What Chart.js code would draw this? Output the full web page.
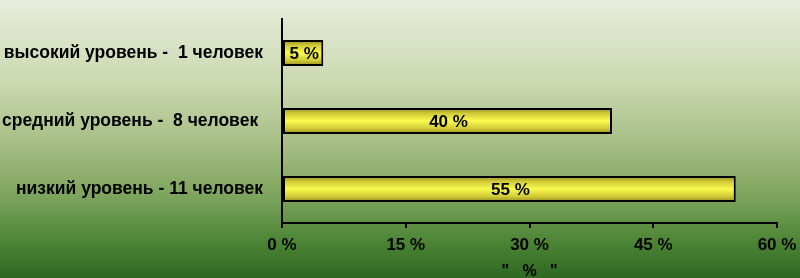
<!DOCTYPE html>
<html><head><meta charset="utf-8">
<script src="https://cdn.jsdelivr.net/npm/chart.js@4"></script>
<style>html,body{margin:0;padding:0;background:#2f6a22;overflow:hidden}#wrap{width:800px;height:278px;position:relative}</style>
</head><body><div id="wrap"><canvas id="c"></canvas></div>
<script>
const categories = ['высокий уровень -  1 человек', 'средний уровень -  8 человек ', 'низкий уровень - 11 человек'];
const percentValues = [5, 40, 55];
const barLabels = ['5 %', '40 %', '55 %'];
const xTickValues = [0, 15, 30, 45, 60];
const axisTitle = '"   %   "';

Chart.defaults.font.family = '"Liberation Sans", Arial, sans-serif';
Chart.defaults.color = '#000';

const bgPlugin = {
  id: 'bg',
  beforeDraw(chart) {
    const ctx = chart.ctx, w = chart.width, h = chart.height;
    const g = ctx.createLinearGradient(0, 0, 0, h);
    g.addColorStop(0, '#e7eddb');
    g.addColorStop(0.3, '#cbd8b0');
    g.addColorStop(0.5, '#a9c087');
    g.addColorStop(0.7, '#7ea55e');
    g.addColorStop(0.86, '#4f8637');
    g.addColorStop(1, '#2e6821');
    ctx.save();
    ctx.fillStyle = g;
    ctx.fillRect(0, 0, w, h);
    ctx.restore();
  }
};

const labelPlugin = {
  id: 'barLabels',
  afterDatasetsDraw(chart) {
    const ctx = chart.ctx;
    const meta = chart.getDatasetMeta(0);
    ctx.save();
    ctx.font = 'bold 17px "Liberation Sans", Arial, sans-serif';
    ctx.fillStyle = '#000';
    ctx.textAlign = 'center';
    ctx.textBaseline = 'middle';
    meta.data.forEach((el, i) => {
      ctx.fillText(barLabels[i], (el.x + el.base) / 2 + 1, el.y + 1);
    });
    ctx.restore();
  }
};

function barFill(c) {
  const chart = c.chart;
  const ys = chart.scales && chart.scales.y;
  if (!ys || c.dataIndex === undefined) return '#e8e43a';
  const cy = ys.getPixelForValue(c.dataIndex);
  if (!isFinite(cy)) return '#e8e43a';
  const h = 26;
  const g = chart.ctx.createLinearGradient(0, cy - h / 2, 0, cy + h / 2);
  g.addColorStop(0, '#8f8a22');
  g.addColorStop(0.2, '#cfc836');
  g.addColorStop(0.5, '#fafa4e');
  g.addColorStop(0.8, '#cfc836');
  g.addColorStop(1, '#8d8824');
  return g;
}

new Chart(document.getElementById('c'), {
  type: 'bar',
  data: {
    labels: categories,
    datasets: [{
      data: percentValues,
      backgroundColor: barFill,
      borderColor: '#000',
      borderWidth: 2,
      borderSkipped: false,
      barPercentage: 0.38,
      categoryPercentage: 1
    }]
  },
  options: {
    indexAxis: 'y',
    responsive: true,
    maintainAspectRatio: false,
    animation: false,
    layout: { padding: { top: 19, right: 23, bottom: 0, left: 0 } },
    plugins: { legend: { display: false }, tooltip: { enabled: false } },
    scales: {
      x: {
        min: xTickValues[0],
        max: xTickValues[xTickValues.length - 1],
        afterBuildTicks(scale) { scale.ticks = xTickValues.map(v => ({ value: v })); },
        afterFit(scale) { scale.height = 55; scale.paddingLeft = 0; scale.paddingRight = 0; },
        ticks: {
          autoSkip: false,
          maxRotation: 0,
          padding: 7,
          color: '#000',
          font: { size: 17, weight: 'bold' },
          callback: v => v + ' %'
        },
        grid: { display: true, drawOnChartArea: false, drawTicks: true, tickLength: 5, color: '#000', lineWidth: 2 },
        border: { display: true, color: '#000', width: 2 },
        title: {
          display: true,
          text: axisTitle,
          color: '#000',
          font: { size: 16, weight: 'bold' },
          padding: { top: 0, bottom: -3 }
        }
      },
      y: {
        afterFit(scale) { scale.width = 282; scale.paddingTop = 0; scale.paddingBottom = 0; },
        ticks: {
          padding: 19,
          color: '#000',
          font: { size: 17.5, weight: 'bold' }
        },
        grid: { display: false, drawTicks: false },
        border: { display: true, color: '#000', width: 2 }
      }
    }
  },
  plugins: [bgPlugin, labelPlugin]
});
</script>
</body></html>
